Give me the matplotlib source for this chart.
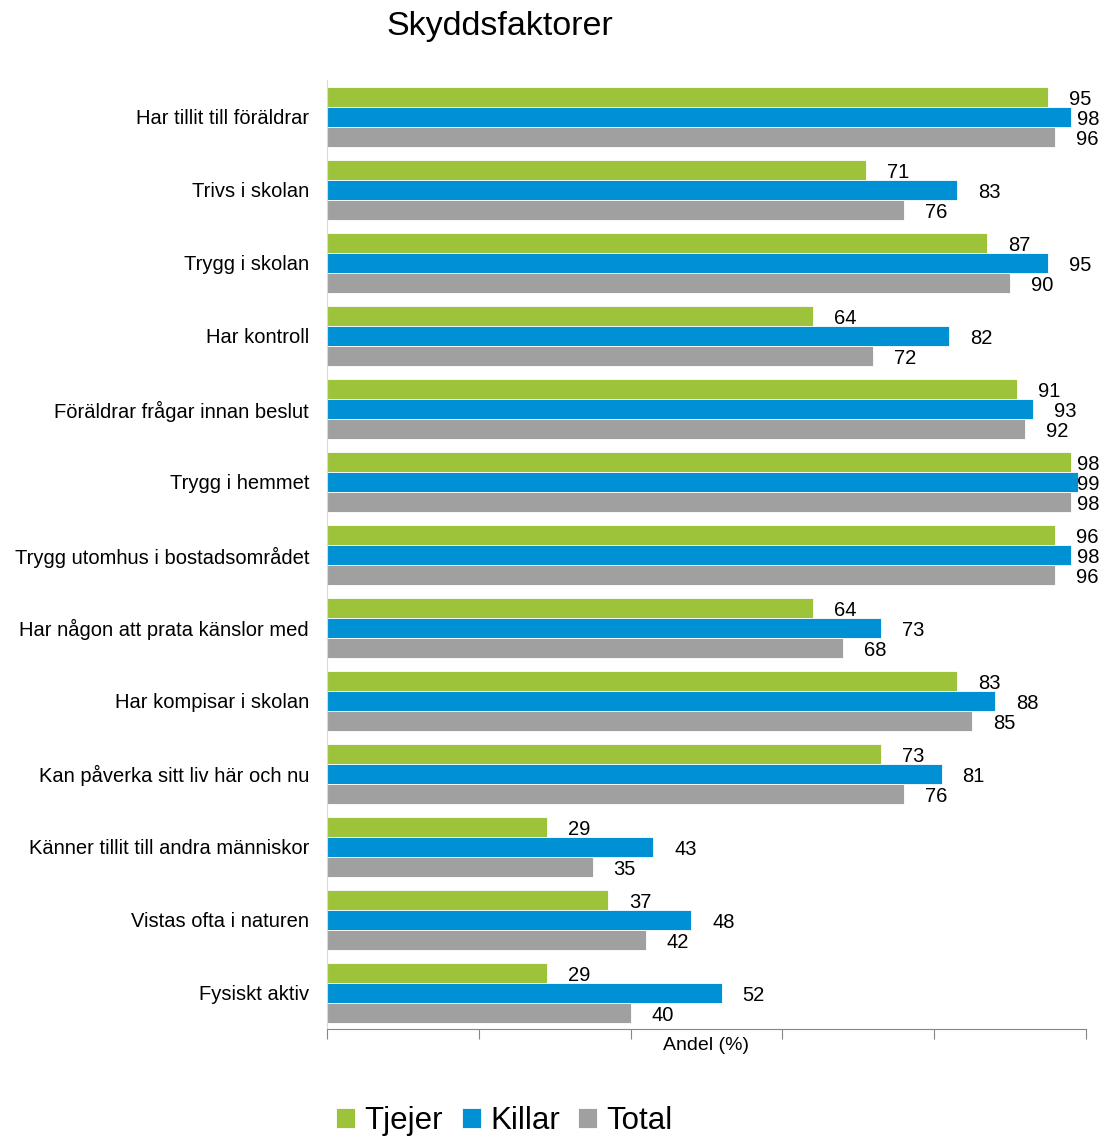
import matplotlib
matplotlib.use("Agg")
import matplotlib.pyplot as plt
import numpy as np

plt.rcParams["font.family"] = ["Liberation Sans", "DejaVu Sans"]

categories = [
    "Har tillit till föräldrar",
    "Trivs i skolan",
    "Trygg i skolan",
    "Har kontroll",
    "Föräldrar frågar innan beslut",
    "Trygg i hemmet",
    "Trygg utomhus i bostadsområdet",
    "Har någon att prata känslor med",
    "Har kompisar i skolan",
    "Kan påverka sitt liv här och nu",
    "Känner tillit till andra människor",
    "Vistas ofta i naturen",
    "Fysiskt aktiv",
]
tjejer = [95, 71, 87, 64, 91, 98, 96, 64, 83, 73, 29, 37, 29]
killar = [98, 83, 95, 82, 93, 99, 98, 73, 88, 81, 43, 48, 52]
total = [96, 76, 90, 72, 92, 98, 96, 68, 85, 76, 35, 42, 40]

series = [("Tjejer", tjejer, "#9DC33B"),
          ("Killar", killar, "#0090D4"),
          ("Total", total, "#A0A0A0")]

fig = plt.figure(figsize=(11.09, 11.37), dpi=100)
ax = fig.add_axes([0.295, 0.0946, 0.684, 0.8346])

n = len(categories)
y = np.arange(n)
h = 0.274
offsets = [-h, 0, h]

for (name, vals, col), off in zip(series, offsets):
    ax.barh(y + off, vals, height=h, color=col, edgecolor="white",
            linewidth=0.6, label=name)
    for yi, v in zip(y, vals):
        # etiketten hamnar efter stapeln men aldrig utanför diagramytan
        tx = min(v + 2.77, 98.8)
        ax.text(tx, yi + off + 0.04, f"{v}", va="center", ha="left", fontsize=14.5)

ax.set_xlim(0, 100)
ax.set_ylim(n - 0.5, -0.5)
ax.set_yticks(y)
ax.set_yticklabels(categories, fontsize=14.5)
ax.set_xticks(np.arange(0, 101, 20))
ax.set_xticklabels([])
ax.tick_params(axis="y", length=0, pad=13)
ax.tick_params(axis="x", direction="out", length=7, color="#868686")
ax.set_xlabel("Andel (%)", fontsize=14, labelpad=-5)

for s in ["top", "right"]:
    ax.spines[s].set_visible(False)
ax.spines["left"].set_color("#D9D9D9")
ax.spines["bottom"].set_color("#868686")

fig.text(0.451, 0.977, "Skyddsfaktorer", ha="center", va="center", fontsize=24.5)

fig.legend(loc="center", bbox_to_anchor=(0.455, 0.014), ncol=3, frameon=False,
           fontsize=22.5, handlelength=0.6, handleheight=0.6, handletextpad=0.3,
           columnspacing=0.6)

fig.savefig("out.png", dpi=100)
